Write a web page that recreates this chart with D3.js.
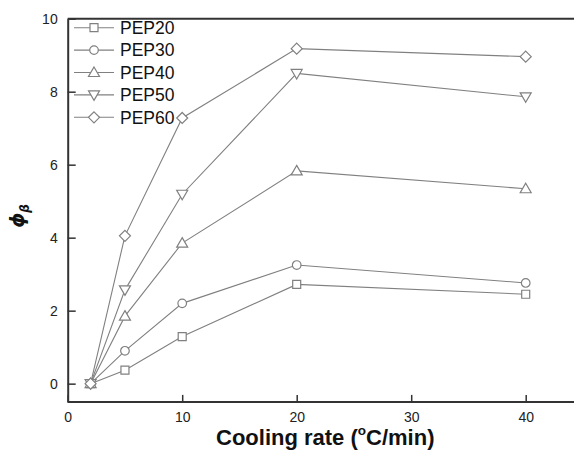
<!DOCTYPE html>
<html><head><meta charset="utf-8">
<script src="https://cdn.jsdelivr.net/npm/d3@7"></script>
<style>body{margin:0;background:#fff}svg{display:block}</style>
</head><body>
<script>
const xValues = [2, 5, 10, 20, 40];
const seriesNames = ["PEP20", "PEP30", "PEP40", "PEP50", "PEP60"];
const pep20 = [0, 0.37, 1.29, 2.72, 2.45];
const pep30 = [0, 0.90, 2.20, 3.25, 2.76];
const pep40 = [0, 1.85, 3.85, 5.83, 5.34];
const pep50 = [0, 2.57, 5.19, 8.50, 7.86];
const pep60 = [0, 4.05, 7.28, 9.18, 8.96];
const xTicks = [0, 10, 20, 30, 40];
const yTicks = [0, 2, 4, 6, 8, 10];
const markers = ["square", "circle", "triangleUp", "triangleDown", "diamond"];
const allSeries = [pep20, pep30, pep40, pep50, pep60];

const W = 574, H = 451;
const svg = d3.select("body").append("svg").attr("width", W).attr("height", H);
const x = d3.scaleLinear().domain([0, 45]).range([67.7, 67.7 + 45 * 11.45]);
const y = d3.scaleLinear().domain([-0.5, 10]).range([401.9, 18.7]);

const lineCol = "#808080", axisCol = "#333";
const font = "Liberation Sans, Arial, sans-serif";

function drawMarker(g, type, cx, cy) {
  const s = g.append("path").attr("fill", "#fff").attr("stroke", lineCol).attr("stroke-width", 1.2);
  let d;
  if (type === "square") d = `M${cx-4},${cy-4}h8v8h-8z`;
  else if (type === "circle") d = `M${cx+4.3},${cy}A4.3,4.3 0 1 1 ${cx-4.3},${cy}A4.3,4.3 0 1 1 ${cx+4.3},${cy}z`;
  else if (type === "triangleUp") d = `M${cx},${cy-5.5}L${cx+5.5},${cy+4}L${cx-5.5},${cy+4}z`;
  else if (type === "triangleDown") d = `M${cx},${cy+5.5}L${cx+5.5},${cy-4}L${cx-5.5},${cy-4}z`;
  else d = `M${cx},${cy-5.5}L${cx+5.5},${cy}L${cx},${cy+5.5}L${cx-5.5},${cy}z`;
  s.attr("d", d);
}

// frame
svg.append("line").attr("x1", x(0)).attr("x2", W).attr("y1", y(10)).attr("y2", y(10)).attr("stroke", axisCol).attr("stroke-width", 2);

// axes
const xAxis = d3.axisBottom(x).tickValues(xTicks).tickSizeInner(-7).tickSizeOuter(0).tickPadding(10);
const gx = svg.append("g").attr("transform", `translate(0,${y(-0.5)})`).call(xAxis);
gx.select(".domain").attr("stroke", axisCol).attr("stroke-width", 2).attr("d", `M${x(0)},0H${W}`);
gx.selectAll(".tick line").attr("stroke", axisCol).attr("stroke-width", 1.5);
gx.selectAll("text").attr("font-family", font).attr("font-size", 14).attr("fill", "#222");

const yAxis = d3.axisLeft(y).tickValues(yTicks).tickSizeInner(-8).tickSizeOuter(0).tickPadding(10);
const gy = svg.append("g").attr("transform", `translate(${x(0)},0)`).call(yAxis);
gy.select(".domain").attr("stroke", axisCol).attr("stroke-width", 2);
gy.selectAll(".tick line").attr("stroke", axisCol).attr("stroke-width", 1.5);
gy.selectAll("text").attr("font-family", font).attr("font-size", 14).attr("fill", "#222");

// series
const line = d3.line().x((d, i) => x(xValues[i])).y(d => y(d));
allSeries.forEach((vals) => {
  svg.append("path").datum(vals).attr("d", line).attr("fill", "none").attr("stroke", lineCol).attr("stroke-width", 1.1);
});
allSeries.forEach((vals, si) => {
  const g = svg.append("g");
  vals.forEach((v, i) => drawMarker(g, markers[si], x(xValues[i]), y(v)));
});

// legend
const legY0 = 27.7, legDy = 22.4;
seriesNames.forEach((n, i) => {
  const ly = legY0 + i * legDy;
  const g = svg.append("g");
  g.append("line").attr("x1", 74).attr("x2", 114).attr("y1", ly).attr("y2", ly).attr("stroke", lineCol).attr("stroke-width", 1.1);
  drawMarker(g, markers[i], 94, ly);
  g.append("text").attr("x", 120).attr("y", ly + 6.3).text(n)
    .attr("font-family", font).attr("font-size", 17.5).attr("fill", "#111");
});

// axis titles
const xt = svg.append("text").attr("x", 216).attr("y", 445).attr("text-anchor", "start")
  .attr("font-family", font).attr("font-size", 22).attr("font-weight", "bold").attr("fill", "#111");
xt.append("tspan").text("Cooling rate (");
xt.append("tspan").text("o").attr("font-size", 13.5).attr("dy", -10);
xt.append("tspan").text("C/min)").attr("dy", 10);

const yt = svg.append("text").attr("transform", "translate(24,216) rotate(-90)").attr("text-anchor", "middle")
  .attr("font-family", "DejaVu Sans, sans-serif").attr("font-style", "italic").attr("font-weight", "bold").attr("fill", "#111").attr("font-size", 19);
yt.append("tspan").text("ϕ");
yt.append("tspan").text("β").attr("font-size", 12).attr("dy", 5);
</script>
</body></html>
